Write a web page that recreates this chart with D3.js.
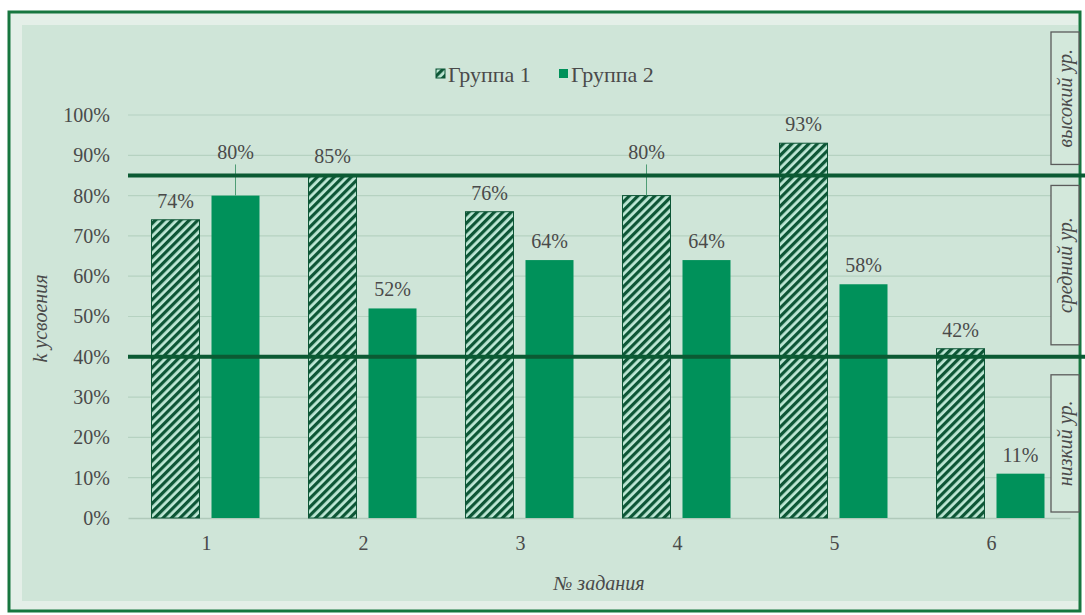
<!DOCTYPE html>
<html>
<head>
<meta charset="utf-8">
<script src="https://cdn.jsdelivr.net/npm/d3@7"></script>
<style>
  body { margin: 0; background: #ffffff; }
</style>
</head>
<body>
<svg id="chart" width="1085" height="615"></svg>
<script>
// data
var tasks = ["1", "2", "3", "4", "5", "6"];
var seriesNames = ["Группа 1", "Группа 2"];
var group1 = [74, 85, 76, 80, 93, 42];
var group2 = [80, 52, 64, 64, 58, 11];
var yTicks = [0, 10, 20, 30, 40, 50, 60, 70, 80, 90, 100];
var levelLines = [85, 40];
var levelNames = ["высокий ур.", "средний ур.", "низкий ур."];

var serif = "'Liberation Serif'";
var textColor = "#4a4a4a";

var svg = d3.select("#chart");
var width = +svg.attr("width");

const padding = { top: 115, right: 15, bottom: 97, left: 128 };

// frame + panel
svg.append("rect")
  .attr("x", 9).attr("y", 12)
  .attr("width", 1071).attr("height", 599)
  .attr("fill", "#e4efe8")
  .attr("stroke", "#17763f")
  .attr("stroke-width", 3);

svg.append("rect")
  .attr("x", 22).attr("y", 25)
  .attr("width", 1056).attr("height", 576)
  .attr("fill", "#cfe5d8");

// hatch pattern for group 1
var defs = svg.append("defs");
var pat = defs.append("pattern")
  .attr("id", "hatch")
  .attr("patternUnits", "userSpaceOnUse")
  .attr("width", 6).attr("height", 6)
  .attr("patternTransform", "rotate(45)");
pat.append("rect").attr("width", 6).attr("height", 6).attr("fill", "#bfe8d6");
pat.append("rect").attr("width", 3.2).attr("height", 6).attr("fill", "#0d5636");

var xScale = d3.scaleBand()
  .domain(tasks)
  .range([padding.left, padding.left + 6 * 157]);

var groupScale = d3.scaleBand()
  .domain(seriesNames)
  .range([-55, 53])
  .paddingInner(0.2);

var yScale = d3.scaleLinear()
  .domain([0, 100])
  .range([518, padding.top]);

var plotRight = xScale.range()[1];

// gridlines
svg.append("g")
  .selectAll("line")
  .data(yTicks.slice(1))
  .enter()
  .append("line")
  .attr("x1", padding.left)
  .attr("x2", plotRight)
  .attr("y1", function(d) { return yScale(d); })
  .attr("y2", function(d) { return yScale(d); })
  .attr("stroke", "#b6d2c1")
  .attr("stroke-width", 1.2);

// y axis labels
var yAxis = d3.axisLeft(yScale)
  .tickValues(yTicks)
  .tickFormat(function(d) { return d + "%"; })
  .tickSize(0)
  .tickPadding(18);
var gy = svg.append("g")
  .attr("transform", `translate(${padding.left},0)`)
  .call(yAxis);
gy.select(".domain").remove();
gy.selectAll("text")
  .style("font-family", serif)
  .style("font-size", "20px")
  .attr("fill", textColor);

// x axis
var xAxis = d3.axisBottom(xScale).tickSize(0).tickPadding(18);
var gx = svg.append("g")
  .attr("transform", `translate(0,${yScale(0)})`)
  .call(xAxis);
gx.select(".domain").attr("stroke", "#b0c9ba").attr("stroke-width", 1.5);
gx.selectAll("text")
  .style("font-family", serif)
  .style("font-size", "20px")
  .attr("fill", textColor);

// bars
var series = [group1, group2];
var rows = [];
tasks.forEach(function(t, i) {
  seriesNames.forEach(function(s, j) {
    rows.push({ task: t, series: s, idx: j, value: series[j][i] });
  });
});

svg.append("g")
  .selectAll(".bar")
  .data(rows)
  .enter()
  .append("rect")
  .attr("class", "bar")
  .attr("x", function(d) { return xScale(d.task) + xScale.bandwidth() / 2 + groupScale(d.series); })
  .attr("y", function(d) { return yScale(d.value); })
  .attr("width", groupScale.bandwidth())
  .attr("height", function(d) { return yScale(0) - yScale(d.value); })
  .attr("fill", function(d) { return d.idx == 0 ? "url(#hatch)" : "#00915a"; })
  .attr("stroke", function(d) { return d.idx == 0 ? "#0d5636" : "none"; })
  .attr("stroke-width", 1);

// value labels; move above the 85% line when they would cross it
var lineY = yScale(levelLines[0]);
rows.forEach(function(d) {
  var cx = xScale(d.task) + xScale.bandwidth() / 2 + groupScale(d.series) + groupScale.bandwidth() / 2;
  var top = yScale(d.value);
  var cy = top - 19;
  var moved = Math.abs(cy - lineY) < 12;
  if (moved) {
    cy = lineY - 23;
    svg.append("line")
      .attr("x1", cx).attr("x2", cx)
      .attr("y1", cy + 12).attr("y2", top)
      .attr("stroke", "#4f9d75")
      .attr("stroke-width", 1);
  }
  svg.append("text")
    .attr("x", cx)
    .attr("y", cy)
    .attr("dy", "0.35em")
    .attr("text-anchor", "middle")
    .attr("fill", textColor)
    .style("font-family", serif)
    .style("font-size", "20px")
    .text(d.value + "%");
});

// level boxes on the right
var boxSpans = [
  [32, yScale(levelLines[0]) - 11],
  [yScale(levelLines[0]) + 10, yScale(levelLines[1]) - 12],
  [yScale(levelLines[1]) + 18, yScale(0) - 6]
];
var boxes = svg.append("g");
boxSpans.forEach(function(s, i) {
  boxes.append("rect")
    .attr("x", 1051).attr("y", s[0])
    .attr("width", 28).attr("height", s[1] - s[0])
    .attr("fill", "#d3e8db")
    .attr("stroke", "#5b5b5b")
    .attr("stroke-width", 1.3);
  boxes.append("text")
    .attr("transform", `translate(1065,${(s[0] + s[1]) / 2}) rotate(-90)`)
    .attr("text-anchor", "middle")
    .attr("dy", "0.35em")
    .attr("fill", textColor)
    .style("font-family", serif)
    .style("font-size", "20px")
    .style("font-style", "italic")
    .text(levelNames[i]);
});

// threshold lines
svg.append("g")
  .selectAll("line")
  .data(levelLines)
  .enter()
  .append("line")
  .attr("x1", padding.left)
  .attr("x2", width)
  .attr("y1", function(d) { return yScale(d); })
  .attr("y2", function(d) { return yScale(d); })
  .attr("stroke", "#0b5a33")
  .attr("stroke-width", 4);

// legend
var legend = svg.append("g").attr("transform", "translate(436,74)");
var legendX = [0, 123];
seriesNames.forEach(function(s, i) {
  var g = legend.append("g").attr("transform", `translate(${legendX[i]},0)`);
  g.append("rect")
    .attr("x", 0).attr("y", -5)
    .attr("width", 9).attr("height", 9)
    .attr("fill", i == 0 ? "url(#hatch)" : "#00915a")
    .attr("stroke", i == 0 ? "#0d5636" : "none");
  g.append("text")
    .attr("x", 12)
    .attr("dy", "0.35em")
    .attr("fill", textColor)
    .style("font-family", serif)
    .style("font-size", "22px")
    .text(s);
});

// axis titles
svg.append("text")
  .attr("transform", `translate(40,${(yScale(0) + yScale(100)) / 2 + 2}) rotate(-90)`)
  .attr("text-anchor", "middle")
  .attr("dy", "0.35em")
  .attr("fill", textColor)
  .style("font-family", serif)
  .style("font-size", "20px")
  .style("font-style", "italic")
  .text("k усвоения");

svg.append("text")
  .attr("x", (padding.left + plotRight) / 2)
  .attr("y", 583)
  .attr("text-anchor", "middle")
  .attr("dy", "0.35em")
  .attr("fill", textColor)
  .style("font-family", serif)
  .style("font-size", "20px")
  .style("font-style", "italic")
  .text("№ задания");
</script>
</body>
</html>
